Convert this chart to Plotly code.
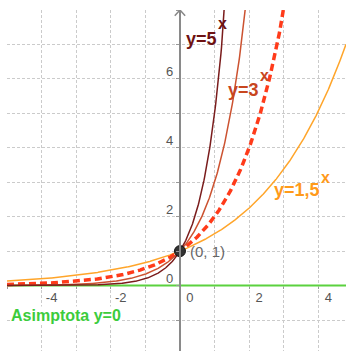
import numpy as np
import plotly.graph_objects as go

# Exponential functions y = b^x drawn on the plane
bases = [5, 3, 2, 1.5]
curve_colors = ["#7a1c1c", "#cc5230", "#ff3b1a", "#ffa52a"]
curve_widths = [1.5, 1.5, 3.5, 1.5]
curve_dashes = ["solid", "solid", "7px,4px", "solid"]
label_texts = ["y=5", "y=3", None, "y=1,5"]
label_colors = ["#6e1212", "#c8461e", None, "#ff9a1a"]
# label anchor positions (x, y) in axis units
label_pos = [(0.12, 7.15), (1.32, 5.67), None, (2.66, 2.77)]
sup_pos = [(1.22, 7.6), (2.43, 6.1), None, (4.20, 3.13)]

x_min, x_max = -5.0, 4.8
y_min, y_max = -1.9, 8.0
x_ticks = list(range(-5, 5))
y_ticks = list(range(-1, 9))
x_labels = [str(v) if v % 2 == 0 else "" for v in x_ticks]
y_labels = [str(v) if v % 2 == 0 and 0 <= v <= 6 else "" for v in y_ticks]
asymptote_y = 0
common_point = (0, 1)

xs = np.linspace(x_min, x_max, 600)

fig = go.Figure()

# asymptote y = 0
fig.add_trace(go.Scatter(
    x=[x_min, x_max], y=[asymptote_y, asymptote_y], mode="lines",
    line=dict(color="#5bd13f", width=2), hoverinfo="skip", showlegend=False))

for b, c, w, d in zip(bases[::-1], curve_colors[::-1], curve_widths[::-1], curve_dashes[::-1]):
    fig.add_trace(go.Scatter(
        x=xs, y=b ** xs, mode="lines",
        line=dict(color=c, width=w, dash=d),
        showlegend=False, hoverinfo="skip"))

# common point (0, 1)
fig.add_trace(go.Scatter(
    x=[common_point[0]], y=[common_point[1]], mode="markers",
    marker=dict(size=11, color="#333333", line=dict(color="#111111", width=1)),
    showlegend=False, hoverinfo="skip"))

annotations = []
for t, col, p, sp in zip(label_texts, label_colors, label_pos, sup_pos):
    if t is None:
        continue
    annotations.append(dict(
        x=p[0], y=p[1], xref="x", yref="y", text=f"<b>{t}</b>", showarrow=False,
        xanchor="left", yanchor="middle",
        font=dict(family="Liberation Sans", size=18, color=col)))
    annotations.append(dict(
        x=sp[0], y=sp[1], xref="x", yref="y", text="<b>x</b>", showarrow=False,
        xanchor="center", yanchor="middle",
        font=dict(family="Liberation Sans", size=16, color=col)))

annotations.append(dict(
    x=0.22, y=1.0, xref="x", yref="y", text="(0, 1)", showarrow=False,
    xanchor="left", yanchor="middle",
    font=dict(family="Liberation Sans", size=15, color="#666666")))

annotations.append(dict(
    x=-4.92, y=-0.88, xref="x", yref="y", text="<b>Asimptota y=0</b>", showarrow=False,
    xanchor="left", yanchor="middle", bgcolor="white", borderpad=0,
    font=dict(family="Liberation Sans", size=16, color="#3ccc3c")))

fig.update_layout(
    width=346, height=351,
    margin=dict(l=7, r=0, t=10, b=0),
    paper_bgcolor="white", plot_bgcolor="white",
    annotations=annotations,
    shapes=[dict(type="path", xref="x", yref="y",
                 path="M -0.15,7.83 L 0,8 L 0.15,7.83",
                 line=dict(color="#888888", width=1.5))],
)

grid_style = dict(gridcolor="#cbcbcb", griddash="3px,2px", gridwidth=1)

fig.update_xaxes(
    range=[x_min, x_max], tickmode="array", tickvals=x_ticks, ticktext=x_labels,
    showgrid=True, **grid_style,
    zeroline=False, showline=False,
    anchor="free", position=(0 - y_min) / (y_max - y_min),
    ticks="outside", ticklen=2, tickcolor="#999999",
    ticklabelshift=10, ticklabelstandoff=-2,
    tickfont=dict(family="Liberation Sans", size=13, color="#555555"),
    fixedrange=True)

fig.update_yaxes(
    range=[y_min, y_max], tickmode="array", tickvals=y_ticks, ticktext=y_labels,
    showgrid=True, **grid_style,
    zeroline=False, showline=True, linecolor="#8a8a8a", linewidth=2,
    anchor="free", position=(0 - x_min) / (x_max - x_min),
    ticks="outside", ticklen=3, tickcolor="#999999",
    ticklabelshift=-7,
    tickfont=dict(family="Liberation Sans", size=13, color="#555555"),
    fixedrange=True)

fig.write_html("out.html")
